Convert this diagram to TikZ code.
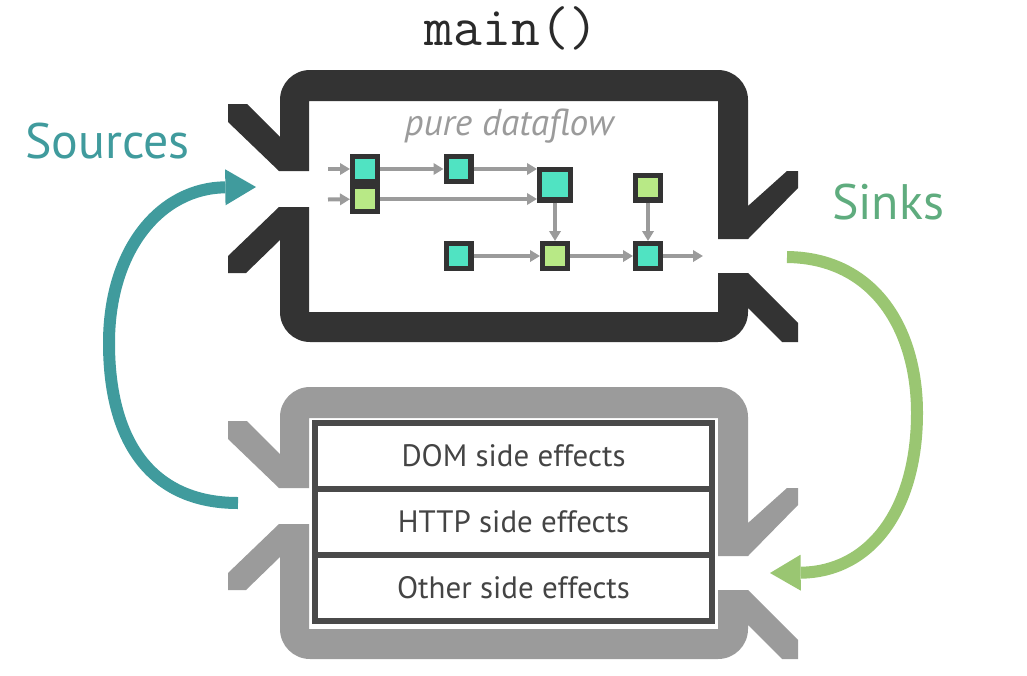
\documentclass[tikz,border=0pt]{standalone}
\usepackage{fontspec}
\setmainfont{PT Sans}
\usetikzlibrary{arrows.meta,positioning}

\definecolor{framedark}{HTML}{333333}
\definecolor{framegray}{HTML}{9B9B9B}
\definecolor{flowgray}{HTML}{9B9B9B}
\definecolor{streamteal}{HTML}{50E3C2}
\definecolor{streamgreen}{HTML}{B8E986}
\definecolor{srccol}{HTML}{409B9D}
\definecolor{sinkcol}{HTML}{9AC672}
\definecolor{sinktext}{HTML}{5FAC7E}
\definecolor{tableline}{HTML}{4A4A4A}
\definecolor{effecttext}{HTML}{444444}
\definecolor{titletext}{HTML}{2A2A2A}

\newcommand{\driverframe}[1]{%
  \fill[#1] (309,171) -- (279,171) -- (228,122) -- (228,104) -- (247,104) -- (280,137) -- (280,100)
    .. controls (280,83.4) and (293.4,70) .. (310,70) -- (718,70)
    .. controls (734.6,70) and (748,83.4) .. (748,100) -- (748,206) -- (787,171) -- (798,171)
    -- (798,188) -- (748,239) -- (718,239) -- (718,101) -- (309,101) -- cycle;
  \fill[#1] (309,207) -- (279,207) -- (228,256) -- (228,273) -- (246,273) -- (280,240) -- (280,312)
    .. controls (280,328.6) and (293.4,342) .. (310,342) -- (718,342)
    .. controls (734.6,342) and (748,328.6) .. (748,312) -- (748,308) -- (782,342) -- (798,342)
    -- (798,323) -- (748,273) -- (718,273) -- (718,312) -- (309,312) -- cycle;
}

\begin{document}
\begin{tikzpicture}[x=0.75pt,y=-0.75pt,
  op/.style={draw=framedark,line width=4.1pt,inner sep=0pt,minimum size=18.4pt},
  opteal/.style={op,fill=streamteal},
  opgreen/.style={op,fill=streamgreen},
  flow/.style={draw=flowgray,line width=3pt,-{Triangle[length=7.5pt,width=8.5pt]}},
  effect/.style={draw=tableline,line width=4.5pt,outer sep=0pt,minimum width=297.75pt,
    minimum height=49.5pt,text=effecttext,font=\fontsize{23.2}{27}\selectfont},
  label/.style={anchor=base,font=\fontsize{37.4}{42}\selectfont},
  srcarrow/.style={draw=srccol,line width=9pt,-{Triangle[length=23pt,width=27pt,line width=0pt]}},
  snkarrow/.style={draw=sinkcol,line width=9pt,-{Triangle[length=23pt,width=27pt,line width=0pt]}}]
  \useasboundingbox (0,0) rectangle (1027,675);

  \driverframe{framedark}
  \begin{scope}[shift={(0,317)}]
    \driverframe{framegray}
  \end{scope}

  \node[anchor=base,text=titletext,font=\ttfamily\fontsize{42}{46}\selectfont] (title) at (511.5,45) {main()};
  \node[label,text=srccol] (sources) at (107.5,158) {Sources};
  \node[label,text=sinktext] (sinks) at (888,219) {Sinks};
  \node[anchor=base,text=flowgray,font=\itshape\fontsize{28}{32}\selectfont] (pure) at (509,135) {pure dataflow};

  \node[opteal] (A) at (365,169) {};
  \node[opgreen,below=0pt of A] (B) {};
  \node[opteal] (C) at (458.5,169) {};
  \node[opteal,minimum size=22.9pt] (D) at (555,184.5) {};
  \node[opgreen] (E) at (648,187.5) {};
  \node[opteal] (F) at (458.5,256) {};
  \node[opgreen] (G) at (555,256) {};
  \node[opteal] (H) at (648,256) {};
  \coordinate (in1) at (328,169);
  \coordinate (in2) at (328,199.5);
  \coordinate (out) at (703,256);

  \draw[flow] (in1) -- (A);
  \draw[flow] (in2) -- (B);
  \draw[flow] (A) -- (C);
  \draw[flow] (C) -- (C -| D.west);
  \draw[flow] (B) -- (B -| D.west);
  \draw[flow] (D) -- (G);
  \draw[flow] (E) -- (H);
  \draw[flow] (F) -- (G);
  \draw[flow] (G) -- (H);
  \draw[flow] (H) -- (out);

  \node[effect] (dom) at (513.5,456) {DOM side effects};
  \node[effect,below=0pt of dom] (http) {HTTP side effects};
  \node[effect,below=0pt of http] (other) {Other side effects};

  \coordinate (srcstart) at (238,503);
  \coordinate (srcend) at (256,187);
  \coordinate (snkstart) at (787,257);
  \coordinate (snkend) at (770,573);
  \draw[srcarrow] (srcstart) .. controls (150,503) and (109,440) .. (109,343)
    .. controls (109,250) and (160,188) .. (srcend);
  \draw[snkarrow] (snkstart) .. controls (875,258) and (917,330) .. (917,413)
    .. controls (917,510) and (870,572) .. (snkend);
\end{tikzpicture}
\end{document}
